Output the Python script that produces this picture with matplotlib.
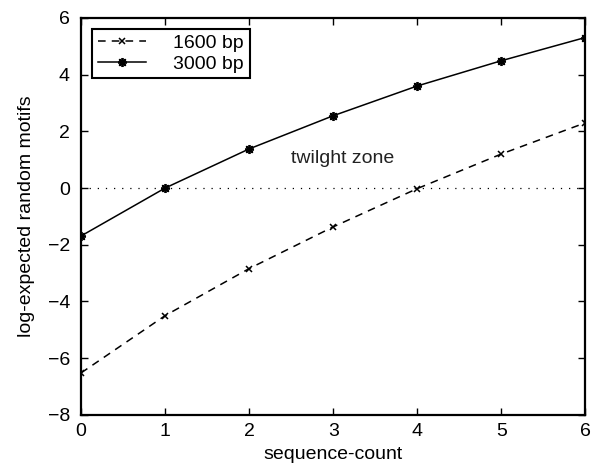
import matplotlib
matplotlib.use("Agg")
import matplotlib.pyplot as plt

plt.rcParams['font.family'] = ['Liberation Sans', 'DejaVu Sans']

# data
seq_count = [0, 1, 2, 3, 4, 5, 6]
bp1600 = [-6.52, -4.5, -2.84, -1.37, -0.02, 1.2, 2.3]
bp3000 = [-1.69, 0.0, 1.38, 2.55, 3.6, 4.49, 5.31]
series_labels = ['1600 bp', '3000 bp']
x_ticks = [0, 1, 2, 3, 4, 5, 6]
y_ticks = [-8, -6, -4, -2, 0, 2, 4, 6]

fs = 14

fig = plt.figure(figsize=(5.96, 4.72), dpi=100)
ax = fig.add_axes([0.136, 0.121, 0.846, 0.841])

# zero reference line
ax.axhline(0, color='black', linestyle=(0, (1, 5.5)), linewidth=0.9)
ax.plot(seq_count, bp1600, color='black', linestyle=(0, (5, 4)), linewidth=1.1,
        marker='x', markersize=4.5, markeredgewidth=1.1, label=series_labels[0])
ax.plot(seq_count, bp3000, color='black', linestyle='-', linewidth=1.1,
        marker=(8, 2, 0), markersize=6.5, markeredgewidth=1.3, label=series_labels[1])

ax.text(2.5, 1.05, 'twilght zone', fontsize=fs, ha='left', va='center', color='#222222')

ax.set_xlim(0, 6)
ax.set_ylim(-8, 6)
ax.set_xticks(x_ticks)
ax.set_yticks(y_ticks)
ax.set_yticklabels([str(v).replace('-', '\u2212') for v in y_ticks])
ax.tick_params(direction='in', top=True, right=True, length=5, width=1.0,
               labelsize=fs)
ax.tick_params(axis='x', pad=6)
ax.tick_params(axis='y', pad=8)
for side in ax.spines.values():
    side.set_linewidth(1.6)

ax.set_xlabel('sequence-count', fontsize=fs, labelpad=4)
ax.set_ylabel('log-expected random motifs', fontsize=fs, labelpad=9)

leg = ax.legend(loc='upper left', fontsize=fs, frameon=True, fancybox=False,
                edgecolor='black', framealpha=1, borderpad=0.3, handlelength=2.5,
                handletextpad=1.4, labelspacing=0.15, borderaxespad=0.55)
leg.get_frame().set_linewidth(1.5)

fig.savefig('out.png', dpi=100)
